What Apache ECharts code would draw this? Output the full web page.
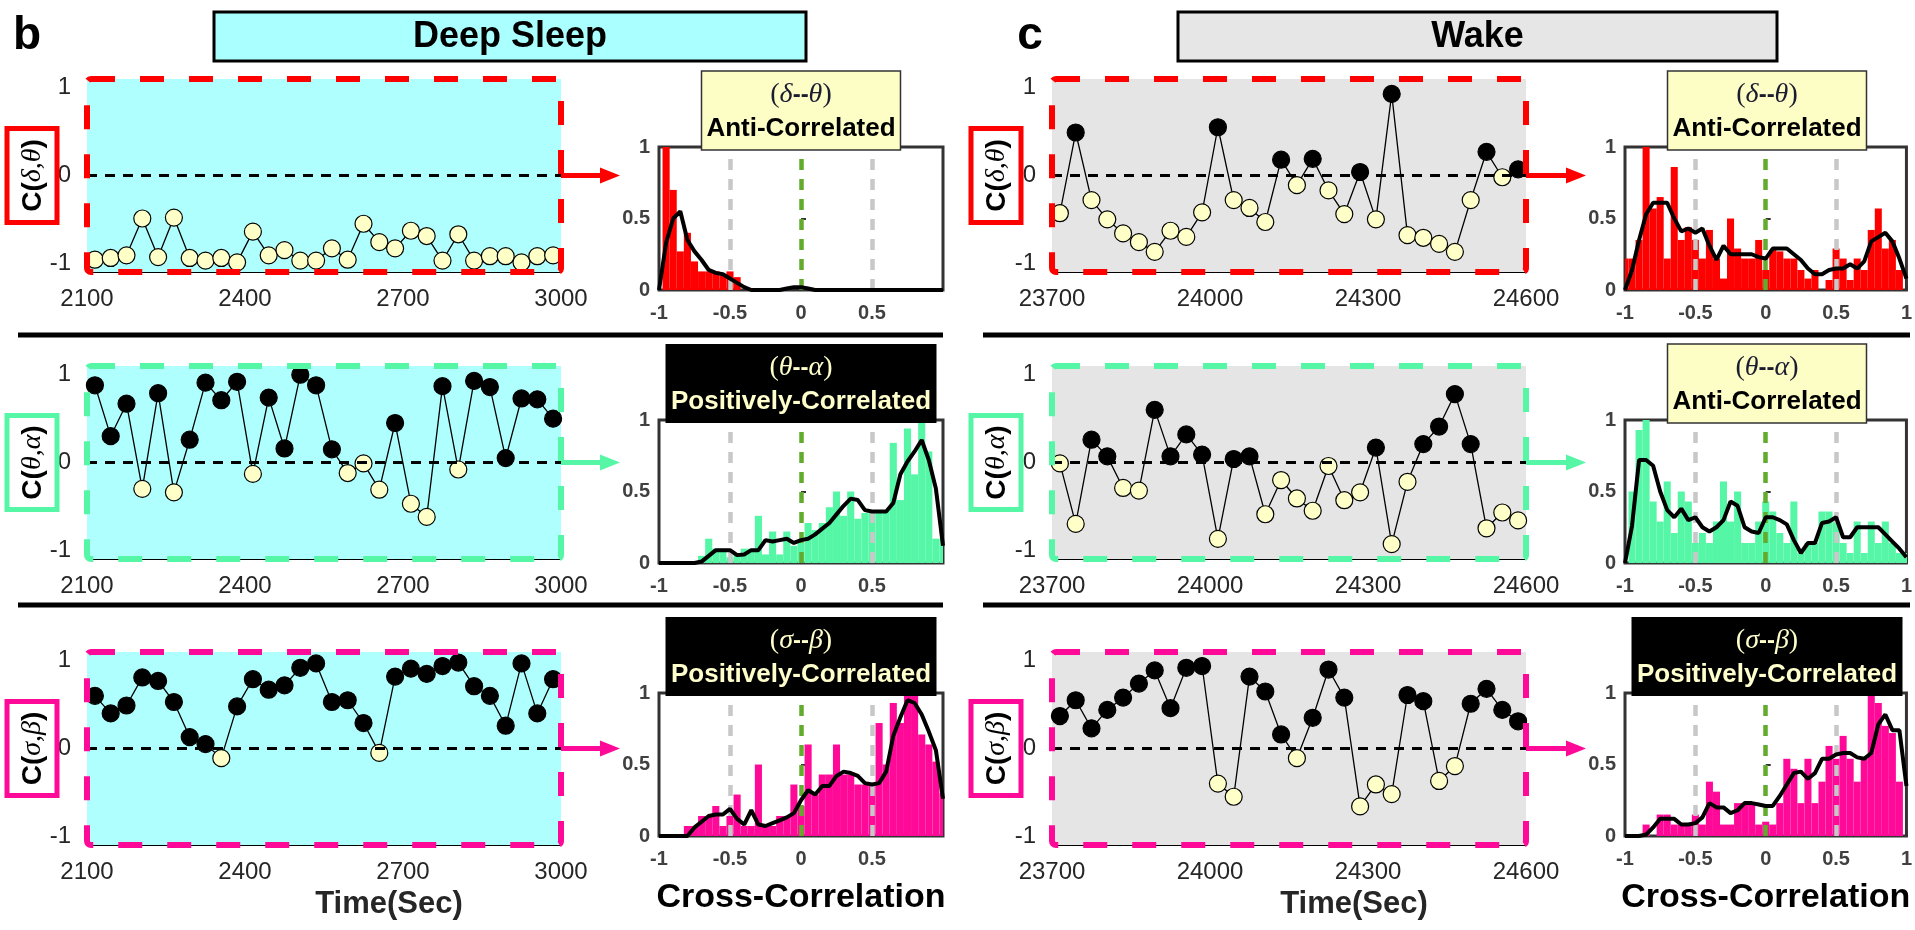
<!DOCTYPE html>
<html><head><meta charset="utf-8">
<script src="https://cdn.jsdelivr.net/npm/echarts@6/dist/echarts.min.js"></script>
<style>html,body{margin:0;padding:0;background:#fff}#c{width:1915px;height:930px}</style>
</head><body><div id="c"></div>
<script>
// ---------------- DATA ----------------
const deepTime = [2115,2145,2175,2205,2235,2265,2295,2325,2355,2385,2415,2445,2475,2505,2535,2565,2595,2625,2655,2685,2715,2745,2775,2805,2835,2865,2895,2925,2955,2985];
const wakeTime = [23715,23745,23775,23805,23835,23865,23895,23925,23955,23985,24015,24045,24075,24105,24135,24165,24195,24225,24255,24285,24315,24345,24375,24405,24435,24465,24495,24525,24555,24585];
const deepTicks = [2100,2400,2700,3000];
const wakeTicks = [23700,24000,24300,24600];

const deepDT = [-0.96,-0.94,-0.91,-0.49,-0.93,-0.48,-0.94,-0.97,-0.94,-0.99,-0.64,-0.91,-0.85,-0.97,-0.97,-0.83,-0.96,-0.55,-0.76,-0.83,-0.63,-0.69,-0.97,-0.67,-0.97,-0.92,-0.92,-0.99,-0.92,-0.91];
const deepTA = [0.88,0.30,0.67,-0.30,0.79,-0.34,0.26,0.91,0.71,0.92,-0.13,0.74,0.16,1.0,0.88,0.15,-0.12,-0.01,-0.31,0.45,-0.47,-0.62,0.87,-0.08,0.93,0.86,0.05,0.73,0.72,0.50];
const deepSB = [0.60,0.40,0.49,0.81,0.77,0.53,0.13,0.05,-0.11,0.48,0.79,0.67,0.72,0.92,0.97,0.53,0.55,0.29,-0.05,0.82,0.91,0.85,0.94,0.98,0.71,0.60,0.26,0.97,0.40,0.79];
const wakeDT = [-0.43,0.49,-0.28,-0.50,-0.66,-0.76,-0.87,-0.63,-0.70,-0.42,0.55,-0.28,-0.37,-0.53,0.18,-0.11,0.19,-0.17,-0.44,0.04,-0.50,0.93,-0.68,-0.71,-0.78,-0.87,-0.28,0.27,-0.02,0.07];
const wakeTA = [-0.01,-0.70,0.26,0.07,-0.29,-0.32,0.60,0.07,0.32,0.09,-0.87,0.04,0.07,-0.59,-0.20,-0.41,-0.55,-0.04,-0.43,-0.34,0.17,-0.93,-0.22,0.21,0.41,0.78,0.21,-0.75,-0.57,-0.66];
const wakeSB = [0.37,0.55,0.23,0.44,0.58,0.74,0.89,0.46,0.92,0.94,-0.40,-0.55,0.82,0.65,0.16,-0.11,0.35,0.90,0.58,-0.66,-0.41,-0.52,0.61,0.54,-0.37,-0.20,0.51,0.68,0.44,0.31];

// cross-correlation grid (bin centres and curve abscissae)
const ccX = [-1,-0.95,-0.9,-0.85,-0.8,-0.75,-0.7,-0.65,-0.6,-0.55,-0.5,-0.45,-0.4,-0.35,-0.3,-0.25,-0.2,-0.15,-0.1,-0.05,0,0.05,0.1,0.15,0.2,0.25,0.3,0.35,0.4,0.45,0.5,0.55,0.6,0.65,0.7,0.75,0.8,0.85,0.9,0.95,1];
const binWidth = 0.05;
const ccTicks = [-1,-0.5,0,0.5,1];

const deepDTHist = [0,1.0,0.70,0.27,0.40,0.20,0.13,0.13,0.13,0.10,0.13,0.09,0,0,0,0,0,0,0,0,0,0,0,0,0,0,0,0,0,0,0,0,0,0,0,0,0,0,0,0,0];
const deepDTKde  = [0,0.33,0.50,0.55,0.35,0.27,0.21,0.14,0.12,0.11,0.08,0.05,0.02,0,0,0,0,0,0.01,0.02,0.02,0.01,0,0,0,0,0,0,0,0,0,0,0,0,0,0,0,0,0,0,0];
const deepTAHist = [0,0,0,0,0,0,0.05,0.17,0.1,0.1,0.04,0.06,0.1,0.1,0.33,0.06,0.22,0.06,0.22,0.12,0.14,0.28,0.23,0.28,0.39,0.5,0.33,0.5,0.31,0.35,0.35,0.37,0.37,0.84,0.44,0.94,0.62,1.0,0.78,0.17,0.17];
const deepTAKde  = [0,0,0,0,0,0,0.01,0.05,0.09,0.09,0.09,0.055,0.06,0.09,0.09,0.16,0.15,0.16,0.17,0.14,0.16,0.17,0.2,0.24,0.28,0.34,0.40,0.45,0.44,0.37,0.36,0.36,0.36,0.42,0.62,0.71,0.78,0.86,0.72,0.52,0.12];
const deepSBHist = [0,0,0,0,0.07,0.07,0.14,0.14,0.21,0.07,0.14,0.29,0.07,0.07,0.5,0.07,0.07,0.14,0.14,0.36,0.21,0.64,0.29,0.43,0.43,0.64,0.43,0.43,0.36,0.36,0.36,0.79,0.5,0.93,0.79,1.0,1.0,0.71,0.64,0.52,0.3];
const deepSBKde  = [0,0,0,0,0,0.06,0.1,0.14,0.15,0.15,0.19,0.12,0.08,0.18,0.08,0.07,0.09,0.11,0.13,0.16,0.25,0.32,0.29,0.35,0.35,0.42,0.45,0.44,0.42,0.37,0.36,0.37,0.45,0.7,0.83,0.95,0.93,0.85,0.73,0.6,0.26];
const wakeDTHist = [0.22,0.22,0.35,1.0,0.57,0.65,0.22,0.86,0.35,0.44,0.35,0.22,0.42,0.22,0.08,0.5,0.29,0.22,0.22,0.35,0.14,0.28,0.27,0.22,0.22,0.14,0.08,0.14,0,0.07,0.29,0.22,0.07,0.22,0.14,0.42,0.57,0.29,0.35,0.14,0];
const wakeDTKde  = [0,0.14,0.35,0.53,0.61,0.61,0.61,0.5,0.41,0.43,0.4,0.43,0.31,0.21,0.31,0.25,0.25,0.25,0.25,0.23,0.22,0.29,0.29,0.29,0.25,0.21,0.15,0.11,0.11,0.14,0.15,0.15,0.18,0.15,0.2,0.34,0.37,0.40,0.34,0.22,0.08];
const wakeTAHist = [0,0.5,0.93,1.0,0.43,0.29,0.57,0.21,0.5,0.43,0.14,0.21,0.14,0.29,0.57,0.29,0.5,0.14,0.14,0.29,0.43,0.36,0.21,0.14,0.43,0.07,0.14,0.14,0.36,0.36,0.29,0.14,0.07,0.29,0.07,0.29,0.14,0.29,0.14,0.07,0.07];
const wakeTAKde  = [0,0.26,0.72,0.72,0.68,0.5,0.37,0.32,0.38,0.3,0.32,0.25,0.22,0.25,0.3,0.43,0.4,0.25,0.22,0.21,0.32,0.32,0.3,0.27,0.16,0.07,0.14,0.14,0.28,0.29,0.32,0.18,0.18,0.25,0.25,0.25,0.25,0.2,0.15,0.1,0.04];
const wakeSBHist = [0,0,0,0.08,0,0.15,0.15,0.08,0.08,0.08,0.15,0.08,0.38,0.31,0.08,0.08,0.23,0.23,0.23,0.08,0.1,0.08,0.23,0.54,0.47,0.23,0.54,0.23,0.38,0.63,0.54,0.70,0.54,0.38,0.54,1.0,0.93,0.77,0.72,0.38,0];
const wakeSBKde  = [0,0,0,0.01,0.06,0.12,0.12,0.12,0.08,0.08,0.09,0.13,0.23,0.2,0.2,0.16,0.18,0.23,0.23,0.22,0.21,0.21,0.28,0.36,0.44,0.45,0.4,0.44,0.54,0.54,0.57,0.58,0.58,0.55,0.54,0.58,0.78,0.85,0.74,0.74,0.35];

const pairGreek = [['δ','θ'],['θ','α'],['σ','β']];
const deepVerdict = ['Anti-Correlated','Positively-Correlated','Positively-Correlated'];
const wakeVerdict = ['Anti-Correlated','Anti-Correlated','Positively-Correlated'];

// ---------------- LAYOUT / STYLE ----------------
const SANS = '"Liberation Sans", Arial, sans-serif';
const SERIF = '"Liberation Serif", "Times New Roman", serif';
const rowColors = ['#ff0000','#55f7a6','#ff0a98'];
const L = {
  scatW: 474, scatH: 193, rowTop: [79,366,652],
  histW: 284, histH: 143, histTop: [147,420,693]
};
const cols = [
  {time: deepTime, ticks: deepTicks, xMin: 2100, xMax: 3000, bg: '#b0ffff', scatLeft: 87, histLeft: 659,
   vals: [deepDT, deepTA, deepSB], hists: [deepDTHist, deepTAHist, deepSBHist], kdes: [deepDTKde, deepTAKde, deepSBKde],
   verdict: deepVerdict, hideLast: true, ylabX: 7, sepX1: 18, sepX2: 943,
   head: {x: 214, w: 592, text: 'Deep Sleep', fill: '#aaffff'}, letter: {x: 27, t: 'b'}},
  {time: wakeTime, ticks: wakeTicks, xMin: 23700, xMax: 24600, bg: '#e5e5e5', scatLeft: 1052, histLeft: 1625,
   vals: [wakeDT, wakeTA, wakeSB], hists: [wakeDTHist, wakeTAHist, wakeSBHist], kdes: [wakeDTKde, wakeTAKde, wakeSBKde],
   verdict: wakeVerdict, hideLast: false, ylabX: 971, sepX1: 983, sepX2: 1910,
   head: {x: 1178, w: 599, text: 'Wake', fill: '#e6e6e6'}, letter: {x: 1030, t: 'c'}}
];

const grids = [], xAxes = [], yAxes = [], series = [], G = [];
function rect(x,y,w,h,style,z,r){G.push({type:'rect',silent:true,z:z||100,shape:{x:x,y:y,width:w,height:h,r:r||0},style:style});}
function txt(x,y,style,z,rot){G.push({type:'text',silent:true,z:z||101,x:x,y:y,rotation:rot||0,
  style:Object.assign({align:'center',verticalAlign:'middle'},style)});}
function seg(x1,y1,x2,y2,style,z){G.push({type:'line',silent:true,z:z||100,shape:{x1:x1,y1:y1,x2:x2,y2:y2},style:style});}

cols.forEach(function(c){
  // header box and letter
  rect(c.head.x, 12, c.head.w, 49, {fill: c.head.fill, stroke: '#000', lineWidth: 3});
  txt(c.head.x + c.head.w/2, 37, {text: c.head.text, font: 'bold 36px ' + SANS, fill: '#000'});
  txt(c.letter.x, 36, {text: c.letter.t, font: 'bold 46px ' + SANS, fill: '#000'});
  // separators
  seg(c.sepX1, 335, c.sepX2, 335, {stroke: '#000', lineWidth: 5});
  seg(c.sepX1, 605, c.sepX2, 605, {stroke: '#000', lineWidth: 5});
  // time axis title (offset to the right like the original)
  txt(c.scatLeft + L.scatW/2 + 65, 904, {text: 'Time(Sec)', font: 'bold 31px ' + SANS, fill: '#262626'});

  for (let r = 0; r < 3; r++) {
    const color = rowColors[r];
    // ---------- scatter / time-series panel ----------
    const gi = grids.length;
    const top = L.rowTop[r];
    grids.push({left: c.scatLeft, top: top, width: L.scatW, height: L.scatH, show: true,
      backgroundColor: c.bg, borderWidth: 0});
    xAxes.push({gridIndex: gi, type: 'value', min: c.xMin, max: c.xMax, interval: 300,
      axisLine: {show: true, onZero: false, lineStyle: {color: '#000', width: 1}},
      axisTick: {show: false}, splitLine: {show: false},
      axisLabel: {color: '#262626', fontSize: 24, fontFamily: SANS, margin: 15,
        formatter: function(v){ return String(v); }}});
    yAxes.push({gridIndex: gi, type: 'value', min: -1.1, max: 1.1,
      axisLine: {show: false}, axisTick: {show: false}, splitLine: {show: false},
      axisLabel: {customValues: [-1,0,1], color: '#262626', fontSize: 24, fontFamily: SANS, margin: 16,
        formatter: function(v){ return String(Math.round(v)); }}});
    const vals = c.vals[r];
    series.push({type: 'line', xAxisIndex: gi, yAxisIndex: gi, z: 3, clip: false,
      symbol: 'circle', symbolSize: 17, showAllSymbol: true,
      lineStyle: {color: '#000', width: 1.3},
      data: vals.map(function(v,i){ return {value: [c.time[i], v],
        itemStyle: {color: v >= 0 ? '#000' : '#ffffc8', borderColor: '#000', borderWidth: 1.2}}; }),
      markLine: {silent: true, symbol: ['none','none'], label: {show: false}, animation: false,
        lineStyle: {color: '#000', width: 3, type: [10,8]}, data: [{yAxis: 0}]}
    });
    // dashed coloured frame
    rect(c.scatLeft, top, L.scatW, L.scatH, {fill: 'none', stroke: color, lineWidth: 6, lineDash: [24,25]}, 100, 4);
    // y label box
    const zeroY = top + L.scatH/2;
    rect(c.ylabX, zeroY - 47, 50, 94, {fill: '#fff', stroke: color, lineWidth: 5});
    const g = pairGreek[r];
    txt(c.ylabX + 26, zeroY, {text: '{a|C(}{b|' + g[0] + ',' + g[1] + '}{a|)}',
      rich: {a: {fontSize: 28, fontWeight: 'bold', fontFamily: SANS, fill: '#000'},
             b: {fontSize: 28, fontStyle: 'italic', fontFamily: SERIF, fill: '#000'}}}, 101, Math.PI/2);
    // arrow
    const ax0 = c.scatLeft + L.scatW, ax1 = c.histLeft - 39;
    seg(ax0, zeroY, ax1 - 14, zeroY, {stroke: color, lineWidth: 5});
    G.push({type: 'polygon', silent: true, z: 100, shape: {points: [[ax1-20, zeroY-8],[ax1, zeroY],[ax1-20, zeroY+8]]}, style: {fill: color}});

    // ---------- histogram panel ----------
    const hi = grids.length;
    const htop = L.histTop[r];
    grids.push({left: c.histLeft, top: htop, width: L.histW, height: L.histH, show: true,
      backgroundColor: '#fff', borderColor: '#333', borderWidth: 3});
    const hideLast = c.hideLast;
    xAxes.push({gridIndex: hi, type: 'value', min: -1, max: 1, interval: 0.5,
      axisLine: {show: false}, splitLine: {show: false},
      axisTick: {show: true, inside: true, length: 5, lineStyle: {color: '#333', width: 2}},
      axisLabel: {color: '#404040', fontSize: 20, fontWeight: 'bold', fontFamily: SANS, margin: 13,
        formatter: function(v){ return (hideLast && v === 1) ? '' : String(v); }},
      name: r === 2 ? 'Cross-Correlation' : '', nameLocation: 'middle', nameGap: 45,
      nameTextStyle: {fontSize: 34, fontWeight: 'bold', fontFamily: SANS, color: '#000'}});
    yAxes.push({gridIndex: hi, type: 'value', min: 0, max: 1, interval: 0.5,
      axisLine: {show: false}, splitLine: {show: false},
      axisTick: {show: true, inside: true, length: 5, lineStyle: {color: '#333', width: 2}},
      axisLabel: {color: '#404040', fontSize: 20, fontWeight: 'bold', fontFamily: SANS, margin: 9}});
    const hv = c.hists[r];
    series.push({type: 'custom', xAxisIndex: hi, yAxisIndex: hi, z: 2, clip: true,
      data: hv.map(function(h,i){ return [ccX[i] - binWidth/2, ccX[i] + binWidth/2, h]; }),
      renderItem: function(params, api){
        const p0 = api.coord([api.value(0), api.value(2)]);
        const p1 = api.coord([api.value(1), 0]);
        return {type: 'rect', shape: {x: p0[0], y: p0[1], width: p1[0]-p0[0], height: p1[1]-p0[1]},
          style: {fill: color}};
      }});
    series.push({type: 'line', xAxisIndex: hi, yAxisIndex: hi, z: 4, data: [],
      markLine: {silent: true, symbol: ['none','none'], label: {show: false}, animation: false,
        lineStyle: {width: 4.5, type: [11,9]},
        data: [{xAxis: -0.5, lineStyle: {color: '#c8c8c8'}}, {xAxis: 0, lineStyle: {color: '#62ab2c'}}, {xAxis: 0.5, lineStyle: {color: '#c8c8c8'}}]}});
    const kv = c.kdes[r];
    series.push({type: 'line', xAxisIndex: hi, yAxisIndex: hi, z: 6, showSymbol: false, symbol: 'none',
      lineStyle: {color: '#000', width: 4}, data: kv.map(function(v,i){ return [ccX[i], v]; })});
    // title box
    const pos = c.verdict[r] === 'Positively-Correlated';
    const bw = pos ? 271 : 199;
    const cx = c.histLeft + L.histW/2;
    const btop = htop - 76;
    rect(cx - bw/2, btop, bw, 79, pos ? {fill: '#000'} : {fill: '#fdfdc6', stroke: '#333', lineWidth: 1.5}, 110);
    const tc = pos ? '#ffffcc' : '#1c1c30';
    txt(cx, btop + 24, {text: '{p|(}{g|' + g[0] + '}{d|--}{g|' + g[1] + '}{p|)}',
      rich: {p: {fontSize: 28, fontFamily: SERIF, fill: tc},
             g: {fontSize: 28, fontStyle: 'italic', fontFamily: SERIF, fill: tc},
             d: {fontSize: 24, fontWeight: 'bold', fontFamily: SANS, fill: tc}}}, 111);
    txt(cx, btop + 58, {text: c.verdict[r], font: 'bold 26px ' + SANS, fill: pos ? '#ffffcc' : '#000'}, 111);
  }
});

const chart = echarts.init(document.getElementById('c'), null, {renderer: 'canvas'});
chart.setOption({
  animation: false,
  backgroundColor: '#fff',
  grid: grids, xAxis: xAxes, yAxis: yAxes, series: series,
  graphic: {elements: G}
});
</script>
</body></html>
